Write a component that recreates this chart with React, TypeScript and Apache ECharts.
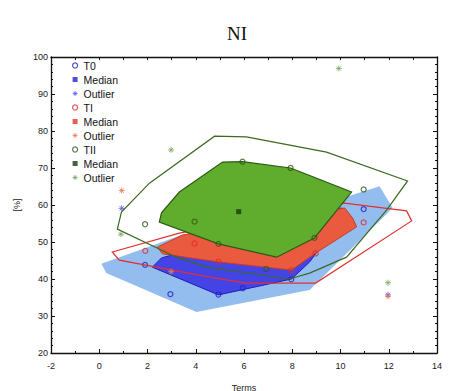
import React, { useEffect, useRef } from "react";
import * as echarts from "echarts";

// ---- data ----
const X_RANGE = [-2, 14];
const Y_RANGE = [20, 100];

const T0_LOOP = [[0.09, 44.1], [0.29, 41.6], [4.03, 31.1], [8.72, 37.0], [12.16, 59.2], [11.62, 65.1], [10.09, 61.9], [3.41, 51.9]];
const T0_BAG = [[2.2, 43.2], [2.58, 45.7], [10.05, 59.2], [9.54, 51.9], [8.72, 44.6], [7.97, 40.0], [4.94, 35.7]];
const T0_POINTS = [[1.9, 43.8], [2.95, 35.9], [4.94, 35.8], [5.95, 37.5], [7.96, 39.9], [10.96, 58.9]];
const T0_MEDIAN = [[6.0, 46.0]];
const T0_OUTLIERS = [[0.93, 59.1], [2.98, 42.0], [11.97, 35.7]];

const TI_BAG = [[2.41, 48.6], [3.45, 51.9], [10.17, 59.2], [10.5, 56.5], [10.67, 54.1], [8.97, 47.0], [7.97, 42.4], [4.94, 44.6], [2.62, 46.8]];
const TI_LOOP = [[0.54, 47.3], [3.32, 52.4], [10.17, 60.5], [12.74, 58.4], [12.95, 55.7], [8.97, 38.9], [6.1, 38.9], [4.57, 40.5], [0.83, 45.1]];
const TI_POINTS = [[1.91, 47.6], [3.95, 49.6], [4.94, 44.7], [7.96, 42.4], [8.97, 46.9], [10.96, 55.3]];
const TI_MEDIAN = [[6.5, 51.0]];
const TI_OUTLIERS = [[0.93, 63.9], [2.98, 42.0], [11.97, 35.3]];

const TII_BAG = [[2.49, 55.4], [2.58, 57.9], [3.32, 63.5], [5.11, 71.6], [5.94, 71.7], [7.93, 70.0], [10.46, 63.5], [8.92, 51.1], [7.35, 45.9], [4.94, 49.5]];
const TII_LOOP = [[0.75, 53.5], [0.92, 58.1], [2.08, 65.9], [4.78, 78.6], [6.1, 78.4], [9.42, 74.3], [12.78, 66.5], [11.91, 58.6], [10.25, 45.9], [8.72, 41.6], [7.88, 40.0], [4.44, 43.2], [3.2, 45.9]];
const TII_POINTS = [[1.9, 54.8], [3.95, 55.5], [4.94, 49.5], [5.94, 71.7], [7.93, 70.0], [6.92, 42.7], [8.92, 51.1], [10.96, 64.2]];
const TII_MEDIAN = [[5.78, 58.2]];
const TII_OUTLIERS = [[2.98, 74.9], [0.9, 52.1], [9.93, 96.9], [11.97, 39.0]];

const GROUP_COLORS = {
  T0: { circle: "#2020c8", median: "#2424c8", outlier: "#5a5af0" },
  TI: { circle: "#e02a2a", median: "#e03a2a", outlier: "#e87a5a" },
  TII: { circle: "#2c5a16", median: "#1a3a10", outlier: "#7aa860" },
};

const ASTERISK = "path://M5,0L5,10M0,5L10,5M1.5,1.5L8.5,8.5M1.5,8.5L8.5,1.5";
const FONT = "Liberation Sans, Arial, sans-serif";

function polygon(pts: number[][], style: any, z: number) {
  return {
    type: "custom",
    coordinateSystem: "cartesian2d",
    silent: true,
    z,
    data: pts,
    encode: { x: 0, y: 1 },
    renderItem: (params: any, api: any) => {
      if (params.dataIndex !== 0) return null;
      const points = pts.map((p) => api.coord(p));
      return { type: "polygon", shape: { points }, style };
    },
  };
}

const circleStyle = (c: string) => ({ color: "rgba(0,0,0,0)", borderColor: c, borderWidth: 1.2 });
const outlierStyle = (c: string) => ({ color: "rgba(0,0,0,0)", borderColor: c, borderWidth: 1 });

function circles(name: string, data: number[][], color: string, z: number) {
  return { type: "scatter", name, data, z, symbol: "circle", symbolSize: 5, itemStyle: circleStyle(color) };
}
function median(name: string, data: number[][], color: string, z: number) {
  return { type: "scatter", name, data, z, symbol: "rect", symbolSize: 5, itemStyle: { color } };
}
function outliers(name: string, data: number[][], color: string, z: number) {
  return { type: "scatter", name, data, z, symbol: ASTERISK, symbolSize: 6, itemStyle: outlierStyle(color) };
}

const LEGEND_ITEMS = [
  { name: "T0", icon: "circle", itemStyle: circleStyle(GROUP_COLORS.T0.circle) },
  { name: "Median", icon: "rect", itemStyle: { color: GROUP_COLORS.T0.median } },
  { name: "Outlier", icon: ASTERISK, itemStyle: outlierStyle(GROUP_COLORS.T0.outlier) },
  { name: "TI", icon: "circle", itemStyle: circleStyle(GROUP_COLORS.TI.circle) },
  { name: "Median ", icon: "rect", itemStyle: { color: GROUP_COLORS.TI.median } },
  { name: "Outlier ", icon: ASTERISK, itemStyle: outlierStyle(GROUP_COLORS.TI.outlier) },
  { name: "TII", icon: "circle", itemStyle: circleStyle(GROUP_COLORS.TII.circle) },
  { name: "Median  ", icon: "rect", itemStyle: { color: GROUP_COLORS.TII.median } },
  { name: "Outlier  ", icon: ASTERISK, itemStyle: outlierStyle(GROUP_COLORS.TII.outlier) },
];

const axisCommon = {
  type: "value",
  axisLine: { show: true, onZero: false, lineStyle: { color: "#111", width: 1.3 } },
  axisTick: { show: true, inside: true, length: 4, lineStyle: { color: "#111", width: 1 } },
  minorTick: { show: true, length: 2, lineStyle: { color: "#111", width: 1 } },
  splitLine: { show: false },
  minorSplitLine: { show: false },
};

export default function App() {
  const ref = useRef<HTMLDivElement>(null);
  useEffect(() => {
    if (!ref.current) return;
    const chart = echarts.init(ref.current, undefined, { renderer: "svg" });
    const labelFont = { fontSize: 9, color: "#1a1a1a", fontFamily: FONT };
    chart.setOption({
      animation: false,
      backgroundColor: "#fff",
      title: {
        text: "NI",
        left: 222,
        top: 19,
        textStyle: { fontFamily: "Liberation Serif, Times New Roman, serif", fontSize: 19, fontWeight: "normal", color: "#111" },
      },
      legend: {
        data: LEGEND_ITEMS,
        orient: "vertical",
        left: 72,
        top: 60,
        padding: 0,
        itemWidth: 5,
        itemHeight: 5,
        itemGap: 3,
        formatter: (n: string) => n.trim(),
        textStyle: { fontSize: 10.5, lineHeight: 10, color: "#111", fontFamily: FONT, padding: [0, 0, 0, 1] },
        selectedMode: false,
      },
      grid: { left: 51, right: 13, top: 57, bottom: 38, containLabel: false, outerBoundsMode: "none" },
      xAxis: [
        {
          ...axisCommon,
          position: "bottom",
          min: X_RANGE[0],
          max: X_RANGE[1],
          interval: 2,
          minorTick: { ...axisCommon.minorTick, splitNumber: 2 },
          axisLabel: { ...labelFont, margin: 8 },
          name: "Terms",
          nameLocation: "middle",
          nameGap: 30,
          nameTextStyle: { fontSize: 9, color: "#222", fontFamily: FONT },
        },
        {
          ...axisCommon,
          position: "top",
          min: X_RANGE[0],
          max: X_RANGE[1],
          interval: 1,
          axisTick: { ...axisCommon.axisTick, length: 3 },
          minorTick: { show: false },
          axisLabel: { show: false },
        },
      ],
      yAxis: [
        {
          ...axisCommon,
          position: "left",
          min: Y_RANGE[0],
          max: Y_RANGE[1],
          interval: 10,
          minorTick: { ...axisCommon.minorTick, splitNumber: 5 },
          axisLabel: { ...labelFont, margin: 3 },
          name: "[%]",
          nameLocation: "middle",
          nameGap: 30,
          nameTextStyle: { fontSize: 9, color: "#222", fontFamily: FONT },
        },
        {
          ...axisCommon,
          position: "right",
          min: Y_RANGE[0],
          max: Y_RANGE[1],
          interval: 10,
          minorTick: { ...axisCommon.minorTick, splitNumber: 5 },
          axisLabel: { show: false },
        },
      ],
      series: [
        polygon(T0_LOOP, { fill: "#93bdee", stroke: "none" }, 2),
        polygon(T0_BAG, { fill: "#4444e6", stroke: "#1f1fb0", lineWidth: 1 }, 3),
        median("Median", T0_MEDIAN, GROUP_COLORS.T0.median, 4),
        circles("T0", T0_POINTS, GROUP_COLORS.T0.circle, 5),
        outliers("Outlier", T0_OUTLIERS, GROUP_COLORS.T0.outlier, 6),
        polygon(TI_BAG, { fill: "#e95a3f", stroke: "#c83a26", lineWidth: 1 }, 7),
        polygon(TI_LOOP, { fill: "none", stroke: "#e03030", lineWidth: 1.2 }, 8),
        median("Median ", TI_MEDIAN, GROUP_COLORS.TI.median, 9),
        circles("TI", TI_POINTS, GROUP_COLORS.TI.circle, 10),
        outliers("Outlier ", TI_OUTLIERS, GROUP_COLORS.TI.outlier, 11),
        polygon(TII_BAG, { fill: "#60ad2e", stroke: "#2c5a16", lineWidth: 1.2 }, 12),
        polygon(TII_LOOP, { fill: "none", stroke: "#3c6a22", lineWidth: 1.2 }, 13),
        median("Median  ", TII_MEDIAN, GROUP_COLORS.TII.median, 14),
        circles("TII", TII_POINTS, GROUP_COLORS.TII.circle, 15),
        outliers("Outlier  ", TII_OUTLIERS, GROUP_COLORS.TII.outlier, 16),
      ],
    });
    return () => chart.dispose();
  }, []);
  return <div ref={ref} style={{ position: "fixed", left: 0, top: 0, width: 450, height: 391 }} />;
}
